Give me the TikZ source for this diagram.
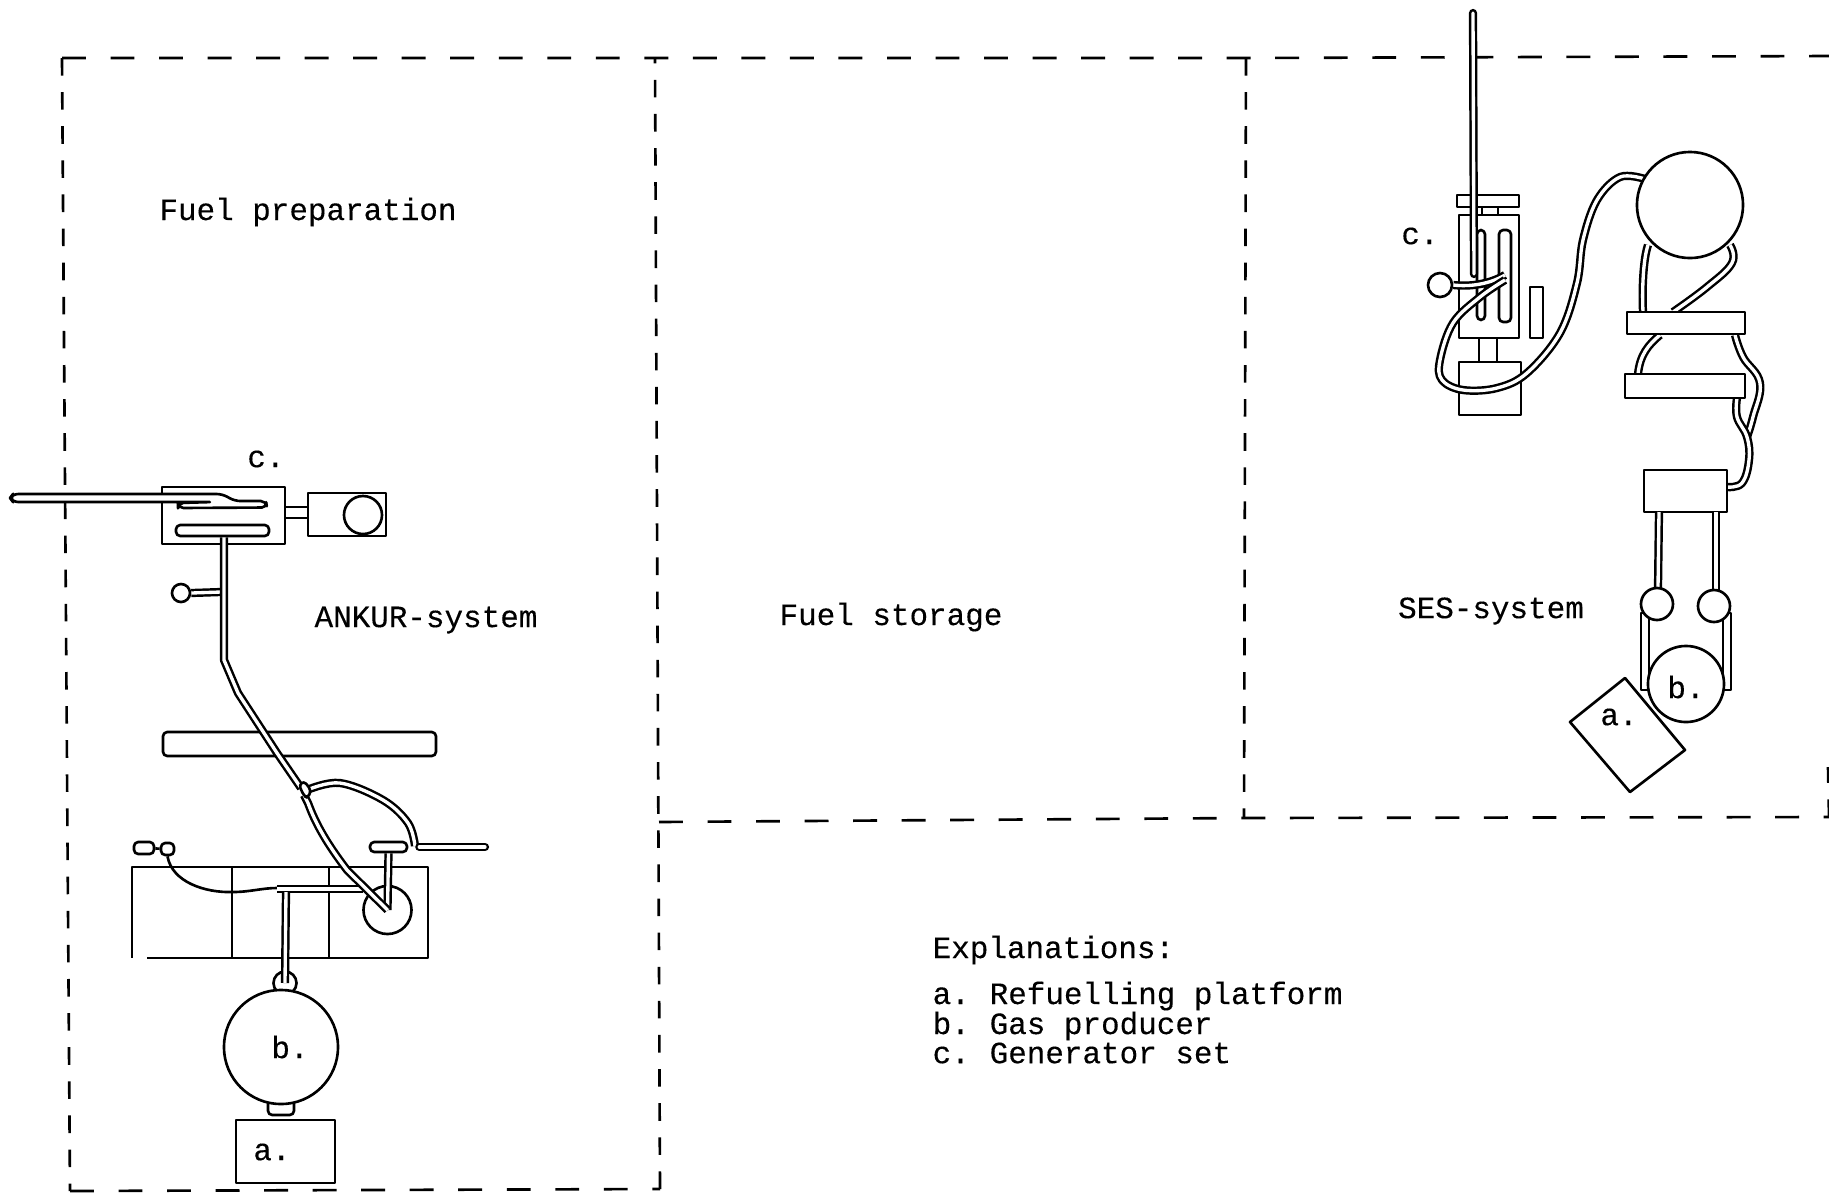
\documentclass[tikz,border=0pt]{standalone}
\usepackage{fontspec}
\setmainfont{Liberation Mono}[FakeBold=0.25]
\usetikzlibrary{calc}
\begin{document}
\begin{tikzpicture}[
    x=0.01cm, y=-0.01cm,
    line join=round,
    zoneh/.style={line width=.75pt, dash pattern=on 6.8pt off 7pt},
    zonev/.style={line width=.75pt, dash pattern=on 5pt off 4.7pt},
    part/.style={draw, fill=white, line width=.75pt},
    pbox/.style n args={2}{part, rectangle, inner sep=0pt, minimum width=#1*0.01cm, minimum height=#2*0.01cm},
    rbox/.style n args={2}{pbox={#1}{#2}, rounded corners=1.2pt},
    ball/.style={part, circle, inner sep=0pt, minimum size=#1*0.02cm},
    tube/.style={line width=.7pt, double, double distance=.95pt},
    pipe/.style={tube, line cap=round},
    lab/.style={font=\fontsize{8.8}{10}\selectfont, inner sep=0pt}
  ]
  \useasboundingbox (0,0) rectangle (1829,1193);

  \coordinate (fueltl) at (62,58);
  \coordinate (fueltr) at (655,58);
  \coordinate (fuelbl) at (70,1191);
  \coordinate (fuelbr) at (660,1189);
  \coordinate (sestl) at (1246,58);
  \coordinate (sestr) at (1829,56);
  \coordinate (midl) at (659,822);
  \coordinate (midm) at (1244,818);
  \coordinate (midr) at (1829,817);
  \draw[zoneh] (fueltl) -- (fueltr) -- (sestl) -- (sestr);
  \draw[zonev] (fueltl) -- (fuelbl);
  \draw[zoneh] (fuelbl) -- (fuelbr);
  \draw[zonev] (fuelbr) -- (fueltr);
  \draw[zonev] (sestl) -- (midm);
  \draw[zoneh] (midl) -- (midm) -- (midr);
  \draw[zonev] (midr) -- ++(-1,-50);

  \node[pbox={123}{57}] (ankgen) at (223.5,515.5) {};
  \node[rbox={93}{11}] (anklow) at (222.5,530.5) {};
  \node[pbox={23}{11}] (ankneck) at (296.5,512.5) {};
  \node[pbox={78}{43}] (ankmotor) at (347,514.5) {};
  \node[ball=19] (ankwheel) at (363,515) {};
  \draw[part, rounded corners=1.5pt] (213,502) -- (13,502) -- (10,498) -- (13,494) -- (222,494) -- (235,501)
    -- (266,501) -- (267,507.5) -- (178,508) -- (178,503) -- cycle;
  \node[rbox={273}{24}] (ankplate) at (299.5,744) {};

  \node[ball=9] (ankvalve) at (181,593) {};
  \draw[tube] (ankvalve.east) -- (221,592);
  \draw[tube] (anklow.south) ++(1.5,0) -- (224,660) -- (238,693) -- (277,753) -- (301,788);

  \draw[part, fill=none] (147,958) -- (428,958) -- (428,867) -- (132,867) -- (132,958);
  \foreach \divx in {232,329}
    \draw[part, fill=none] (\divx,867) -- (\divx,958);
  \node[ball=24] (anktank) at (387.5,910) {};
  \node[rbox={37}{10}] (ankcap) at (388.5,847) {};
  \draw[tube] (ankcap.south) -- (anktank.center);
  \node[rbox={20}{12}] (ankfan) at (144,848) {};
  \node[rbox={13}{12}] (ankfanb) at (167.5,849) {};
  \draw[part] (ankfan) -- (ankfanb);
  \draw[part, fill=none] (ankfanb.south) .. controls (172,882) and (205,893) .. (233,892) .. controls (250,892) and (262,888) .. (277,888);
  \node[ball=11.5] (ankring) at (285,983) {};
  \node[rbox={26}{24}] (ankstub) at (281,1103) {};
  \node[ball=57] (ankgas) at (281,1047) {};
  \draw[tube] (277,889) -- (363,889);
  \draw[tube] (286,892) -- (ankring.center);
  \node[pbox={99}{63}] (ankplat) at (285.5,1151.5) {};
  \draw[tube] (304,795) -- (308,803) .. controls (316,825) and (328,845) .. (347,870) -- (anktank.center);
  \draw[tube] plot[smooth, tension=.6] coordinates {(307,790) (340,783) (383,800) (408,823) (415,846)};
  \draw[part, rounded corners=1pt] (299,785) -- (304,781) -- (311,790) -- (308,798) -- (304,796) -- cycle;
  \draw[pipe] (ankcap.east) ++(11,0) -- (485,847);

  \node[pbox={62}{12}] (sestop) at (1488,201) {};
  \node[pbox={16}{8}] (sesneck) at (1490,211) {};
  \node[pbox={60}{123}] (sesgen) at (1489,276.5) {};
  \node[rbox={8}{90}] (sesslota) at (1481,275) {};
  \node[rbox={12}{92}] (sesslotb) at (1505,276) {};
  \node[pbox={18}{24}] (sesshaft) at (1488,350) {};
  \node[pbox={62}{53}] (sesmotor) at (1490,388.5) {};
  \node[pbox={13}{51}] (sesside) at (1536.5,312.5) {};
  \node[ball=12] (sesvalve) at (1440,285) {};
  \draw[pipe] (1473,13) -- (1474,274);
  \draw[tube] (sesvalve.east) .. controls (1470,287) and (1490,284) .. (1505,275);
  \draw[tube] plot[smooth, tension=.6] coordinates {(1505,280) (1480,297) (1453,323) (1440,360) (1442,380) (1463,390) (1497,388) (1527,373) (1560,333) (1577,283) (1583,240) (1597,200) (1620,177) (1645,179)};
  \draw[tube] (1648,245) .. controls (1643,260) and (1642,290) .. (1643,312);
  \draw[tube] plot[smooth, tension=.7] coordinates {(1730,245) (1732,263) (1707,287) (1673,312)};
  \draw[tube] (1660,335) .. controls (1648,345) and (1640,355) .. (1638,374);
  \draw[tube] plot[smooth, tension=.7] coordinates {(1735,335) (1743,357) (1760,383) (1753,417) (1747,437)};
  \draw[tube] plot[smooth, tension=.7] coordinates {(1737,398) (1737,417) (1747,437) (1749,460) (1742,483) (1727,487)};
  \node[ball=53] (sesgas) at (1690,205) {};
  \node[pbox={118}{22}] (sesbara) at (1686,323) {};
  \node[pbox={120}{24}] (sesbarb) at (1685,386) {};
  \node[pbox={83}{42}] (sesfilter) at (1685.5,491) {};
  \draw[tube] (1659,512) -- (1658,588);
  \draw[tube] (1716,512) -- (1716,590);
  \draw[part] (1641,613) rectangle (1649,690);
  \draw[part] (1723,613) rectangle (1731,690);
  \node[ball=16] (sesclna) at (1657,604) {};
  \node[ball=16] (sesclnb) at (1714,606) {};
  \node[ball=38] (sesprod) at (1686,684) {};
  \draw[part, fill=none] (1625,678) -- (1570,722) -- (1630,792) -- (1685,750) -- cycle;

  \node[lab] (fuelprep) at (308,212) {Fuel preparation};
  \node[lab] (ankc) at (266,459) {c.};
  \node[lab] (ankur) at (426,620) {ANKUR-system};
  \node[lab] (ankb) at (290,1047) {b.};
  \node[lab] (anka) at (272,1152) {a.};
  \node[lab] (fuelstore) at (891,617) {Fuel storage};
  \node[lab] (sesname) at (1491,611) {SES-system};
  \node[lab] (sesc) at (1420,236) {c.};
  \node[lab] (sesb) at (1686,687) {b.};
  \node[lab] (sesa) at (1619,717) {a.};
  \node[lab, anchor=west] (explain) at (932,950) {Explanations:};
  \node[lab, anchor=west] (expa) at (932,996) {a.\hspace{-1.4pt} Refuelling platform};
  \node[lab, anchor=west] (expb) at (932,1026) {b.\hspace{-1.4pt} Gas producer};
  \node[lab, anchor=west] (expc) at (932,1053) {c.\hspace{-1.4pt} Generator set};
\end{tikzpicture}
\end{document}
